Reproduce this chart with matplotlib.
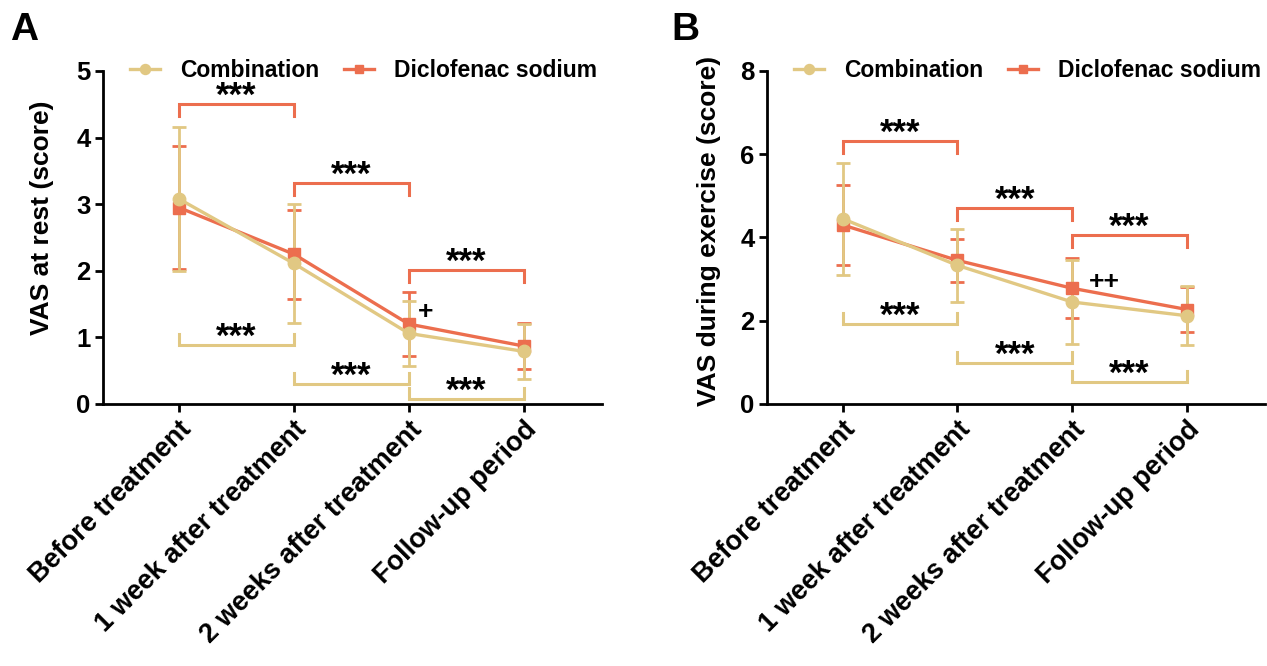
import matplotlib
matplotlib.use("Agg")
import matplotlib.pyplot as plt

plt.rcParams['font.family'] = ['Liberation Sans', 'DejaVu Sans']
plt.rcParams['font.weight'] = 'bold'
plt.rcParams['axes.labelweight'] = 'bold'

timepoints = ['Before treatment', '1 week after treatment',
              '2 weeks after treatment', 'Follow-up period']
group_names = ['Combination', 'Diclofenac sodium']

# panel A - VAS at rest (mean and SD)
rest_comb_mean = [3.08, 2.11, 1.06, 0.79]
rest_comb_sd = [1.08, 0.90, 0.49, 0.41]
rest_dic_mean = [2.95, 2.25, 1.20, 0.87]
rest_dic_sd = [0.92, 0.67, 0.48, 0.35]

# panel B - VAS during exercise
ex_comb_mean = [4.45, 3.33, 2.45, 2.12]
ex_comb_sd = [1.34, 0.87, 1.02, 0.71]
ex_dic_mean = [4.30, 3.45, 2.78, 2.27]
ex_dic_sd = [0.96, 0.52, 0.72, 0.54]

# significance brackets: (from, to, height of the bar)
rest_dic_brackets = [(0, 1, 4.51), (1, 2, 3.32), (2, 3, 2.01)]
rest_comb_brackets = [(0, 1, 0.885), (1, 2, 0.295), (2, 3, 0.07)]
ex_dic_brackets = [(0, 1, 6.31), (1, 2, 4.71), (2, 3, 4.06)]
ex_comb_brackets = [(0, 1, 1.92), (1, 2, 0.99), (2, 3, 0.53)]

comb_color = '#E1C883'
dic_color = '#EC6E4E'

AX_HEIGHT_PX = 333


def draw_brackets(ax, brackets, color, ymax, down):
    px = ymax / AX_HEIGHT_PX
    leg = 12 * px if down else -11 * px
    for i, j, y in brackets:
        ax.plot([i, i, j, j], [y - leg, y, y, y - leg], color=color, lw=2.2,
                solid_joinstyle='miter', clip_on=False, zorder=2)
        # asterisk ink sits high in the line, so place on baseline
        ax.text((i + j) / 2, y - 2 * px, '***', ha='center',
                va='baseline', fontsize=25, fontweight='bold')


def draw_panel(ax, comb_mean, comb_sd, dic_mean, dic_sd, dic_br, comb_br,
               ymax, yticks, ylabel, label_xy, plus_text, plus_xy):
    x = list(range(len(timepoints)))
    ax.errorbar(x, dic_mean, yerr=dic_sd, fmt='none', ecolor=dic_color,
                elinewidth=2, capsize=5, capthick=2, zorder=3)
    ax.errorbar(x, comb_mean, yerr=comb_sd, fmt='none', ecolor=comb_color,
                elinewidth=2, capsize=5, capthick=2, zorder=4)
    dic_line, = ax.plot(x, dic_mean, color=dic_color, lw=2.4, marker='s',
                        ms=8, zorder=5, label=group_names[1])
    comb_line, = ax.plot(x, comb_mean, color=comb_color, lw=2.4, marker='o',
                         ms=9, zorder=6, label=group_names[0])

    draw_brackets(ax, dic_br, dic_color, ymax, down=True)
    draw_brackets(ax, comb_br, comb_color, ymax, down=False)
    ax.text(plus_xy[0], plus_xy[1], plus_text, ha='center', va='center',
            fontsize=19, fontweight='bold')

    ax.set_xlim(-0.66, 3.68)
    ax.set_ylim(0, ymax)
    ax.set_yticks(yticks)
    ax.set_xticks(x)
    ax.set_xticklabels(timepoints, rotation=45, ha='right',
                       rotation_mode='anchor')
    ax.set_ylabel(ylabel, fontsize=19)
    ax.yaxis.set_label_coords(*label_xy)
    for side in ['top', 'right']:
        ax.spines[side].set_visible(False)
    for side in ['left', 'bottom']:
        ax.spines[side].set_linewidth(2)
    ax.tick_params(length=6, width=2, pad=3)
    ax.tick_params(axis='x', labelsize=19.5)
    ax.tick_params(axis='y', labelsize=18.5)

    ax.legend(handles=[comb_line, dic_line], loc='center left',
              bbox_to_anchor=(0.054, 1.0), ncol=2, frameon=False,
              fontsize=16.5, handlelength=1.3, handletextpad=0.87,
              columnspacing=1.1, borderpad=0, borderaxespad=0,
              markerscale=0.8)


fig = plt.figure(figsize=(12.67, 6.66), dpi=100)
ax_a = fig.add_axes([0.0813, 0.3934, 0.3938, 0.5])
ax_b = fig.add_axes([0.6054, 0.3934, 0.393, 0.5])

draw_panel(ax_a, rest_comb_mean, rest_comb_sd, rest_dic_mean, rest_dic_sd,
           rest_dic_brackets, rest_comb_brackets, 5, [0, 1, 2, 3, 4, 5],
           'VAS at rest (score)', (-0.098, 0.56), '+', (2.15, 1.38))
draw_panel(ax_b, ex_comb_mean, ex_comb_sd, ex_dic_mean, ex_dic_sd,
           ex_dic_brackets, ex_comb_brackets, 8, [0, 2, 4, 6, 8],
           'VAS during exercise (score)', (-0.092, 0.52), '++', (2.28, 2.92))

fig.text(0.008, 0.955, 'A', fontsize=28, fontweight='bold', va='center')
fig.text(0.530, 0.955, 'B', fontsize=28, fontweight='bold', va='center')

fig.savefig('out.png', dpi=100)
